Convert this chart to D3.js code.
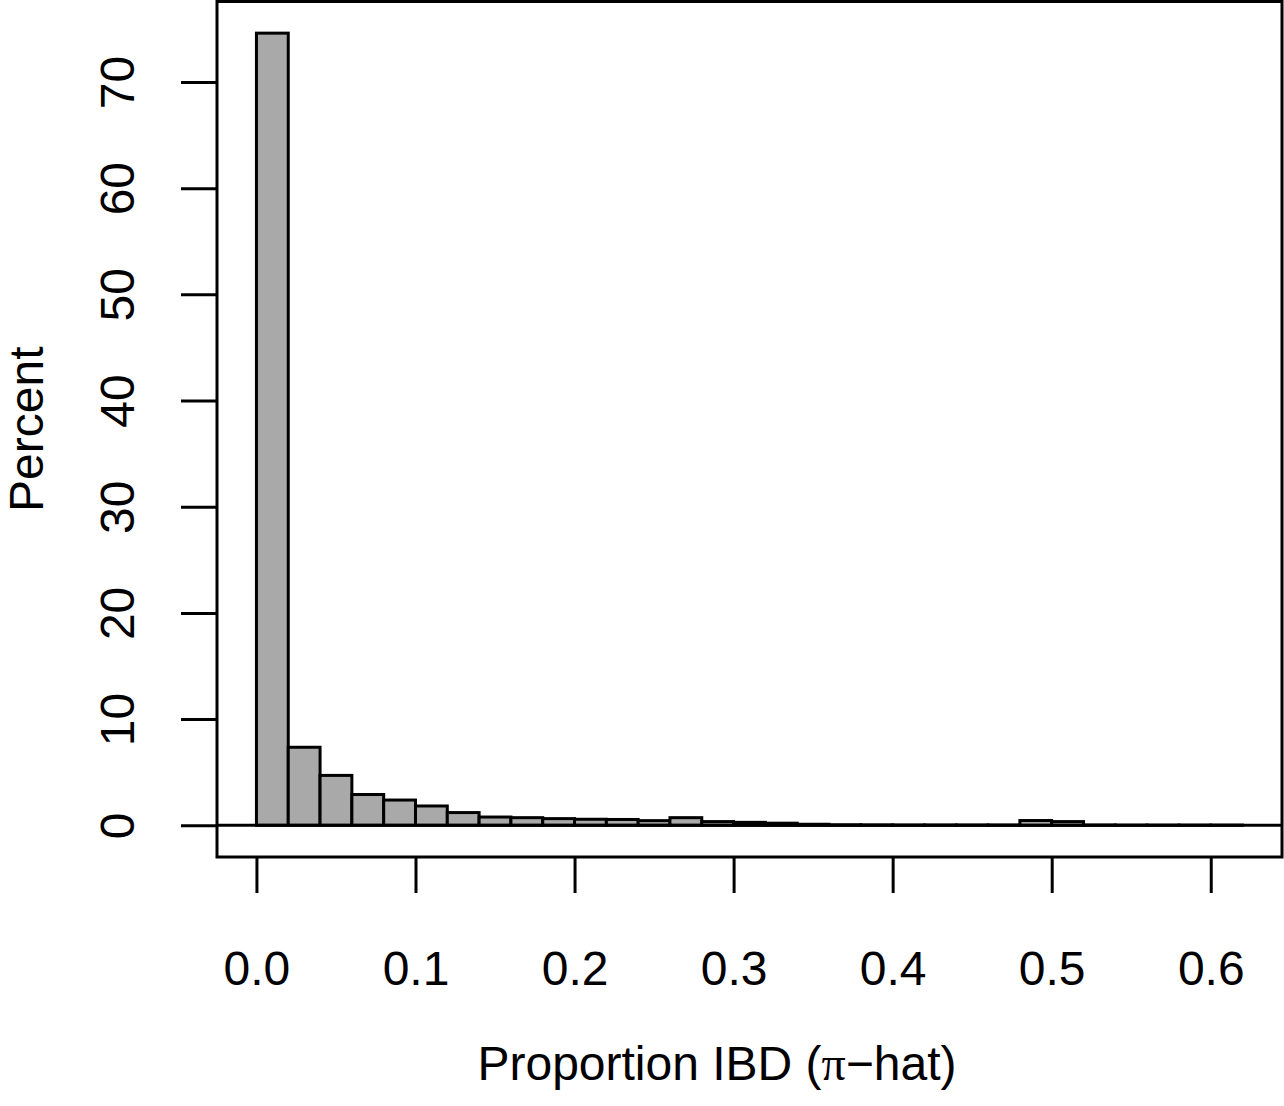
<html>

<head>
    <script src="https://d3js.org/d3.v7.min.js"></script>
    <style>
        body {
            margin: 0;
            background: white;
        }

        svg text {
            font-family: "Liberation Sans", Arial, sans-serif;
            font-size: 48px;
            fill: black;
        }

        .axis line {
            stroke: black;
            stroke-width: 3px;
        }

        .axis .domain {
            stroke: none;
        }
    </style>
</head>

<body>

    <svg id="plot" height='1106' width='1284'></svg>

    <script>
        // histogram of pi-hat, bins of width 0.02 starting at 0
        const binStarts = [0.00, 0.02, 0.04, 0.06, 0.08, 0.10, 0.12, 0.14, 0.16, 0.18,
            0.20, 0.22, 0.24, 0.26, 0.28, 0.30, 0.32, 0.34, 0.36, 0.38,
            0.40, 0.42, 0.44, 0.46, 0.48, 0.50, 0.52, 0.54, 0.56, 0.58, 0.60];
        const binWidth = 0.02;
        const percents = [74.6, 7.35, 4.7, 2.9, 2.38, 1.82, 1.2, 0.78, 0.72, 0.63,
            0.57, 0.55, 0.44, 0.72, 0.35, 0.28, 0.2, 0.1, 0.05, 0.04,
            0.03, 0.03, 0.03, 0.03, 0.45, 0.35, 0.03, 0.02, 0.02, 0.02, 0.02];
        const xTicks = [0, 0.1, 0.2, 0.3, 0.4, 0.5, 0.6];
        const yTicks = [0, 10, 20, 30, 40, 50, 60, 70];

        const svg = d3.select("#plot");
        const margin = {
            top: 1.5,
            right: 2,
            bottom: 249,
            left: 217
        };
        const width = +svg.attr("width");
        const height = +svg.attr("height");
        const plotBottom = height - margin.bottom;

        // R style: axis limits padded by 4% on each side
        const x = d3.scaleLinear().domain([-0.0248, 0.6448]).range([margin.left, width - margin.right]);
        const y = d3.scaleLinear().domain([-2.984, 77.58]).range([plotBottom, margin.top]);

        const data = binStarts.map((d, i) => ({ x0: d, x1: d + binWidth, value: percents[i] }));

        svg.selectAll("rect.bar").data(data)
            .join("rect")
            .attr("class", "bar")
            .attr("x", d => x(d.x0))
            .attr("width", d => x(d.x1) - x(d.x0))
            .attr("y", d => y(d.value))
            .attr("height", d => y(0) - y(d.value))
            .attr("fill", "#a9a9a9")
            .attr("stroke", "black")
            .attr("stroke-width", 3);

        // horizontal line at zero across the plot
        svg.append("line")
            .attr("x1", margin.left)
            .attr("x2", width - margin.right)
            .attr("y1", y(0))
            .attr("y2", y(0))
            .attr("stroke", "black")
            .attr("stroke-width", 3);

        // box
        svg.append("rect")
            .attr("x", margin.left)
            .attr("y", margin.top)
            .attr("width", width - margin.left - margin.right)
            .attr("height", plotBottom - margin.top)
            .attr("fill", "none")
            .attr("stroke", "black")
            .attr("stroke-width", 3);

        const xAxis = d3.axisBottom(x).tickValues(xTicks).tickSize(36).tickFormat(d3.format(".1f"));
        const xg = svg.append("g").attr("class", "axis")
            .attr("transform", `translate(0,${plotBottom})`)
            .call(xAxis);
        xg.selectAll("text")
            .attr("y", 128)
            .attr("dy", 0)
            .attr("font-size", 48)
            .attr("font-family", null);

        const yAxis = d3.axisLeft(y).tickValues(yTicks).tickSize(36);
        const yg = svg.append("g").attr("class", "axis")
            .attr("transform", `translate(${margin.left},0)`)
            .call(yAxis);
        yg.selectAll("text")
            .attr("x", 0)
            .attr("dy", 0)
            .attr("text-anchor", "middle")
            .attr("transform", "translate(-83,0) rotate(-90)")
            .attr("font-size", 48)
            .attr("font-family", null);

        svg.append("text")
            .attr("text-anchor", "middle")
            .attr("transform", `translate(43,${(margin.top + plotBottom) / 2}) rotate(-90)`)
            .text("Percent");

        const xlab = svg.append("text")
            .attr("x", 717)
            .attr("y", 1080)
            .attr("text-anchor", "middle");
        xlab.append("tspan").text("Proportion IBD (");
        xlab.append("tspan").style("font-family", "'Liberation Serif', 'DejaVu Serif', serif").text("\u03c0");
        xlab.append("tspan").text("\u2212hat)");
    </script>
</body>

</html>
